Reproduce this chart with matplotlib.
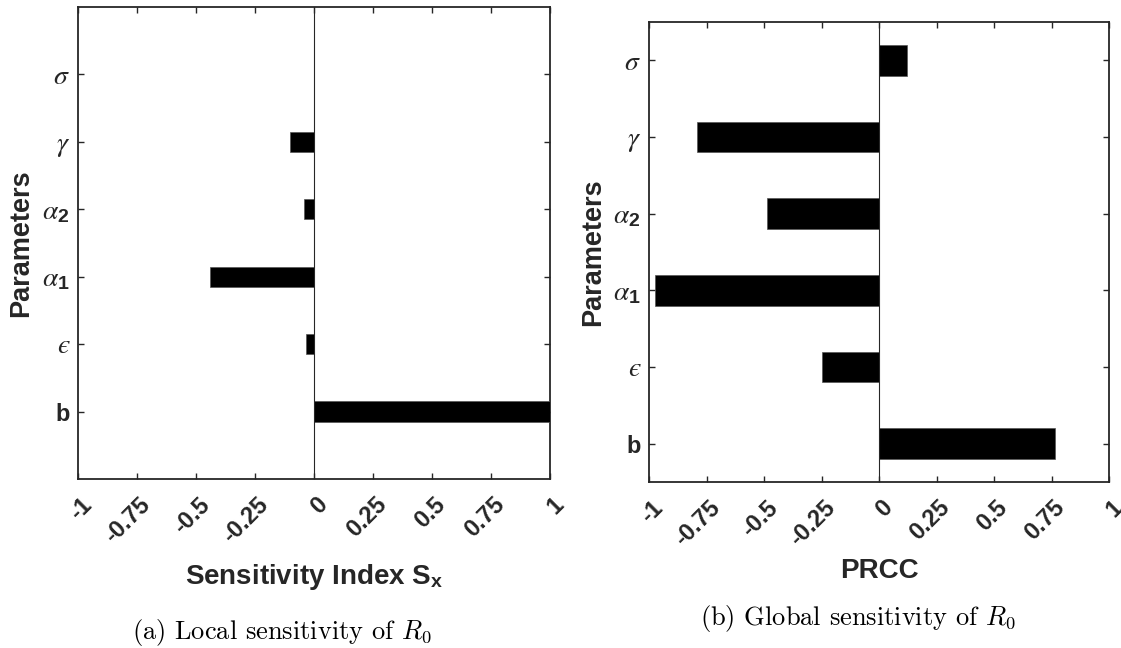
import matplotlib
matplotlib.use("Agg")
from matplotlib import pyplot as plt
from matplotlib.transforms import ScaledTranslation

# parameter order bottom -> top
params = ['b', '\u03f5', r'$\alpha_\mathbf{1}$', r'$\alpha_\mathbf{2}$', r'$\gamma$', r'$\sigma$']
positions = [1, 2, 3, 4, 5, 6]

# (a) local sensitivity index
local_si = [1.0, -0.032, -0.44, -0.042, -0.103, 0.0]
# (b) PRCC
prcc = [0.765, -0.25, -0.975, -0.485, -0.79, 0.12]

xticks = [-1, -0.75, -0.5, -0.25, 0, 0.25, 0.5, 0.75, 1]
xticklabels = ['-1', '-0.75', '-0.5', '-0.25', '0', '0.25', '0.5', '0.75', '1']

plt.rcParams.update({
    "font.family": "Liberation Sans",
    "mathtext.fontset": "custom",
    "mathtext.it": "STIXGeneral:italic",
    "mathtext.rm": "Liberation Sans",
    "mathtext.bf": "Liberation Sans:bold",
})
grey = '#262626'

fig = plt.figure(figsize=(11.21, 6.48), dpi=100)
axL = fig.add_axes([78/1121, 1-479/648, 472/1121, 472/648])
axR = fig.add_axes([649/1121, 1-482/648, 460/1121, 460/648])


def style(ax, vals, height, ylim):
    ax.barh(positions, vals, height=height, color='black', edgecolor='#555555', linewidth=0.5, zorder=3)
    ax.axvline(0, color=grey, linewidth=0.8, zorder=4)
    ax.set_xlim(-1, 1)
    ax.set_ylim(*ylim)
    ax.set_xticks(xticks)
    ax.set_xticklabels(xticklabels, rotation=45, ha='right', va='center', rotation_mode='anchor')
    ax.set_yticks(positions)
    ax.set_yticklabels(params)
    ax.tick_params(direction='in', length=4, width=1, top=True, right=True, colors=grey)
    ax.tick_params(axis='x', labelsize=17, pad=16)
    ax.tick_params(axis='y', labelsize=20, pad=6)
    for lbl in ax.get_xticklabels():
        lbl.set_fontweight('bold')
        lbl.set_transform(lbl.get_transform() + ScaledTranslation(0.10, 0, fig.dpi_scale_trans))
    ylbls = ax.get_yticklabels()
    ylbls[0].set_fontsize(17)
    ylbls[0].set_fontweight('bold')
    ylbls[1].set_fontfamily(['STIXGeneral', 'DejaVu Serif'])
    ylbls[1].set_fontstyle('italic')
    for sp in ax.spines.values():
        sp.set_color(grey)
        sp.set_linewidth(1.3)
    ax.set_ylabel('Parameters', fontsize=19.5, fontweight='bold', color=grey)


style(axL, local_si, 0.3, (0, 7))
style(axR, prcc, 0.4, (0.5, 6.5))

axL.set_xlabel(r'Sensitivity Index S$_\mathbf{x}$', fontsize=20, fontweight='bold', color=grey)
axR.set_xlabel('PRCC', fontsize=20, fontweight='bold', color=grey)
axL.xaxis.set_label_coords(0.5, -0.175)
axR.xaxis.set_label_coords(0.5, -0.165)
axL.yaxis.set_label_coords(-0.093, 0.5)
axR.yaxis.set_label_coords(-0.093, 0.5)

fig.text(282/1121, 1-632/648, r'(a) Local sensitivity of $R_0$', family='cmr10', math_fontfamily='cm',
         fontsize=19, ha='center', va='center')
fig.text(858/1121, 1-618/648, r'(b) Global sensitivity of $R_0$', family='cmr10', math_fontfamily='cm',
         fontsize=19, ha='center', va='center')

fig.savefig('out.png', dpi=100)
